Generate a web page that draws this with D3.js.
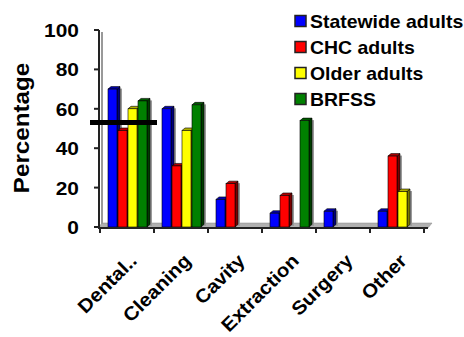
<!DOCTYPE html>
<html><head><meta charset="utf-8">
<script src="https://cdn.jsdelivr.net/npm/d3@7"></script>
<style>html,body{margin:0;padding:0;background:#fff}svg{display:block}text{font-family:Arial,"Liberation Sans",sans-serif;font-weight:bold;fill:#000}</style>
</head><body><svg id="c" width="464" height="337"></svg>
<script>
const categories = ["Dental..", "Cleaning", "Cavity", "Extraction", "Surgery", "Other"];
const seriesNames = ["Statewide adults", "CHC adults", "Older adults", "BRFSS"];
const statewide = [70, 60, 14, 7, 8, 8];
const chc = [49, 31, 22, 16, null, 36];
const older = [60, 49, null, null, null, 18];
const brfss = [64, 62, null, 54, null, null];
const yTicks = [0, 20, 40, 60, 80, 100];
const targetValue = 53;
const yLabel = "Percentage";

const seriesValues = [statewide, chc, older, brfss];
const frontColors = ["#0000ff", "#ff0000", "#ffff00", "#008000"];
const sideColors = ["#00007a", "#7a0000", "#7a7a00", "#003c00"];
const topColors = ["#0000b0", "#b00000", "#b0b000", "#005a00"];
const SX = 1.08;

const svg = d3.select("#c");
const x = d3.scaleBand().domain(categories).range([100, 424]);
const sub = d3.scaleBand().domain(seriesNames).range([8, 48]);
const y = d3.scaleLinear().domain([0, 100]).range([227, 30]);
const dx = 3, dy = 2.5;

// floor
const x0a = 98, x1a = 428, yb = y(0);
svg.append("polygon")
  .attr("points", [[x0a, yb + 1], [x1a, yb + 1], [x1a + 4, yb - 4], [x0a + 4, yb - 4]].map(p => p.join(",")).join(" "))
  .attr("fill", "#b0b0b0").attr("stroke", "#888").attr("stroke-width", 0.5);

// y axis (with shadow)
svg.append("line").attr("x1", 102).attr("x2", 102).attr("y1", y(100) + 2).attr("y2", yb - 3)
  .attr("stroke", "#999").attr("stroke-width", 2);
svg.append("line").attr("x1", 99).attr("x2", 99).attr("y1", y(100)).attr("y2", yb + 1)
  .attr("stroke", "#222").attr("stroke-width", 2);

// y ticks
const yAxisG = svg.append("g");
yTicks.forEach(t => {
  yAxisG.append("line").attr("x1", 94).attr("x2", 99).attr("y1", y(t)).attr("y2", y(t))
    .attr("stroke", "#222").attr("stroke-width", 2);
  yAxisG.append("text").attr("text-anchor", "end")
    .attr("transform", `translate(79,${y(t) + 7}) scale(1.1,1)`)
    .attr("font-size", 19).text(t);
});

// bars
categories.forEach((c, ci) => {
  seriesNames.forEach((s, si) => {
    const v = seriesValues[si][ci];
    if (v == null) return;
    const bx = x(c) + sub(s);
    const w = sub.bandwidth() - 1;
    const top = y(v);
    const g = svg.append("g");
    g.append("rect").attr("x", bx + w + dx).attr("y", top - dy + 2).attr("width", 2).attr("height", yb - top + dy - 3)
      .attr("fill", "#9a9a9a");
    g.append("polygon")
      .attr("points", [[bx + w, top], [bx + w + dx, top - dy], [bx + w + dx, yb - dy], [bx + w, yb]].map(p => p.join(",")).join(" "))
      .attr("fill", sideColors[si]).attr("stroke", "#000").attr("stroke-width", 0.6);
    g.append("polygon")
      .attr("points", [[bx, top], [bx + dx, top - dy], [bx + w + dx, top - dy], [bx + w, top]].map(p => p.join(",")).join(" "))
      .attr("fill", topColors[si]).attr("stroke", "#000").attr("stroke-width", 0.6);
    g.append("rect").attr("x", bx).attr("y", top).attr("width", w).attr("height", yb - top)
      .attr("fill", frontColors[si]).attr("stroke", "#000").attr("stroke-width", 0.6);
  });
});

// x axis line and ticks
svg.append("line").attr("x1", x0a).attr("x2", x1a).attr("y1", yb + 1).attr("y2", yb + 1)
  .attr("stroke", "#222").attr("stroke-width", 2);
const xTickPos = categories.map(c => x(c)).concat([x.range()[1]]);
xTickPos.forEach(p => {
  svg.append("line").attr("x1", p).attr("x2", p).attr("y1", yb + 1).attr("y2", yb + 6)
    .attr("stroke", "#222").attr("stroke-width", 2);
});

// x labels
categories.forEach(c => {
  const cx = x(c) + x.bandwidth() / 2 + 11;
  svg.append("text").attr("font-size", 19).attr("text-anchor", "end")
    .attr("transform", `translate(${cx},262) rotate(-45) scale(${SX},1)`).text(c);
});

// target line
svg.append("line").attr("x1", x(categories[0]) - 10).attr("x2", x(categories[1]) + 3)
  .attr("y1", y(targetValue)).attr("y2", y(targetValue))
  .attr("stroke", "#000").attr("stroke-width", 5);

// y label
svg.append("text").attr("font-size", 22).attr("text-anchor", "middle")
  .attr("transform", `translate(29,128) rotate(-90) scale(1.1,1)`).text(yLabel);

// legend
seriesNames.forEach((s, i) => {
  const cy = 21 + 26 * i;
  svg.append("rect").attr("x", 295).attr("y", cy - 5.5).attr("width", 11).attr("height", 11)
    .attr("fill", frontColors[i]).attr("stroke", "#222").attr("stroke-width", 1.5);
  svg.append("text").attr("transform", `translate(310,${cy + 7}) scale(${SX},1)`)
    .attr("font-size", 18).text(s);
});
</script></body></html>
